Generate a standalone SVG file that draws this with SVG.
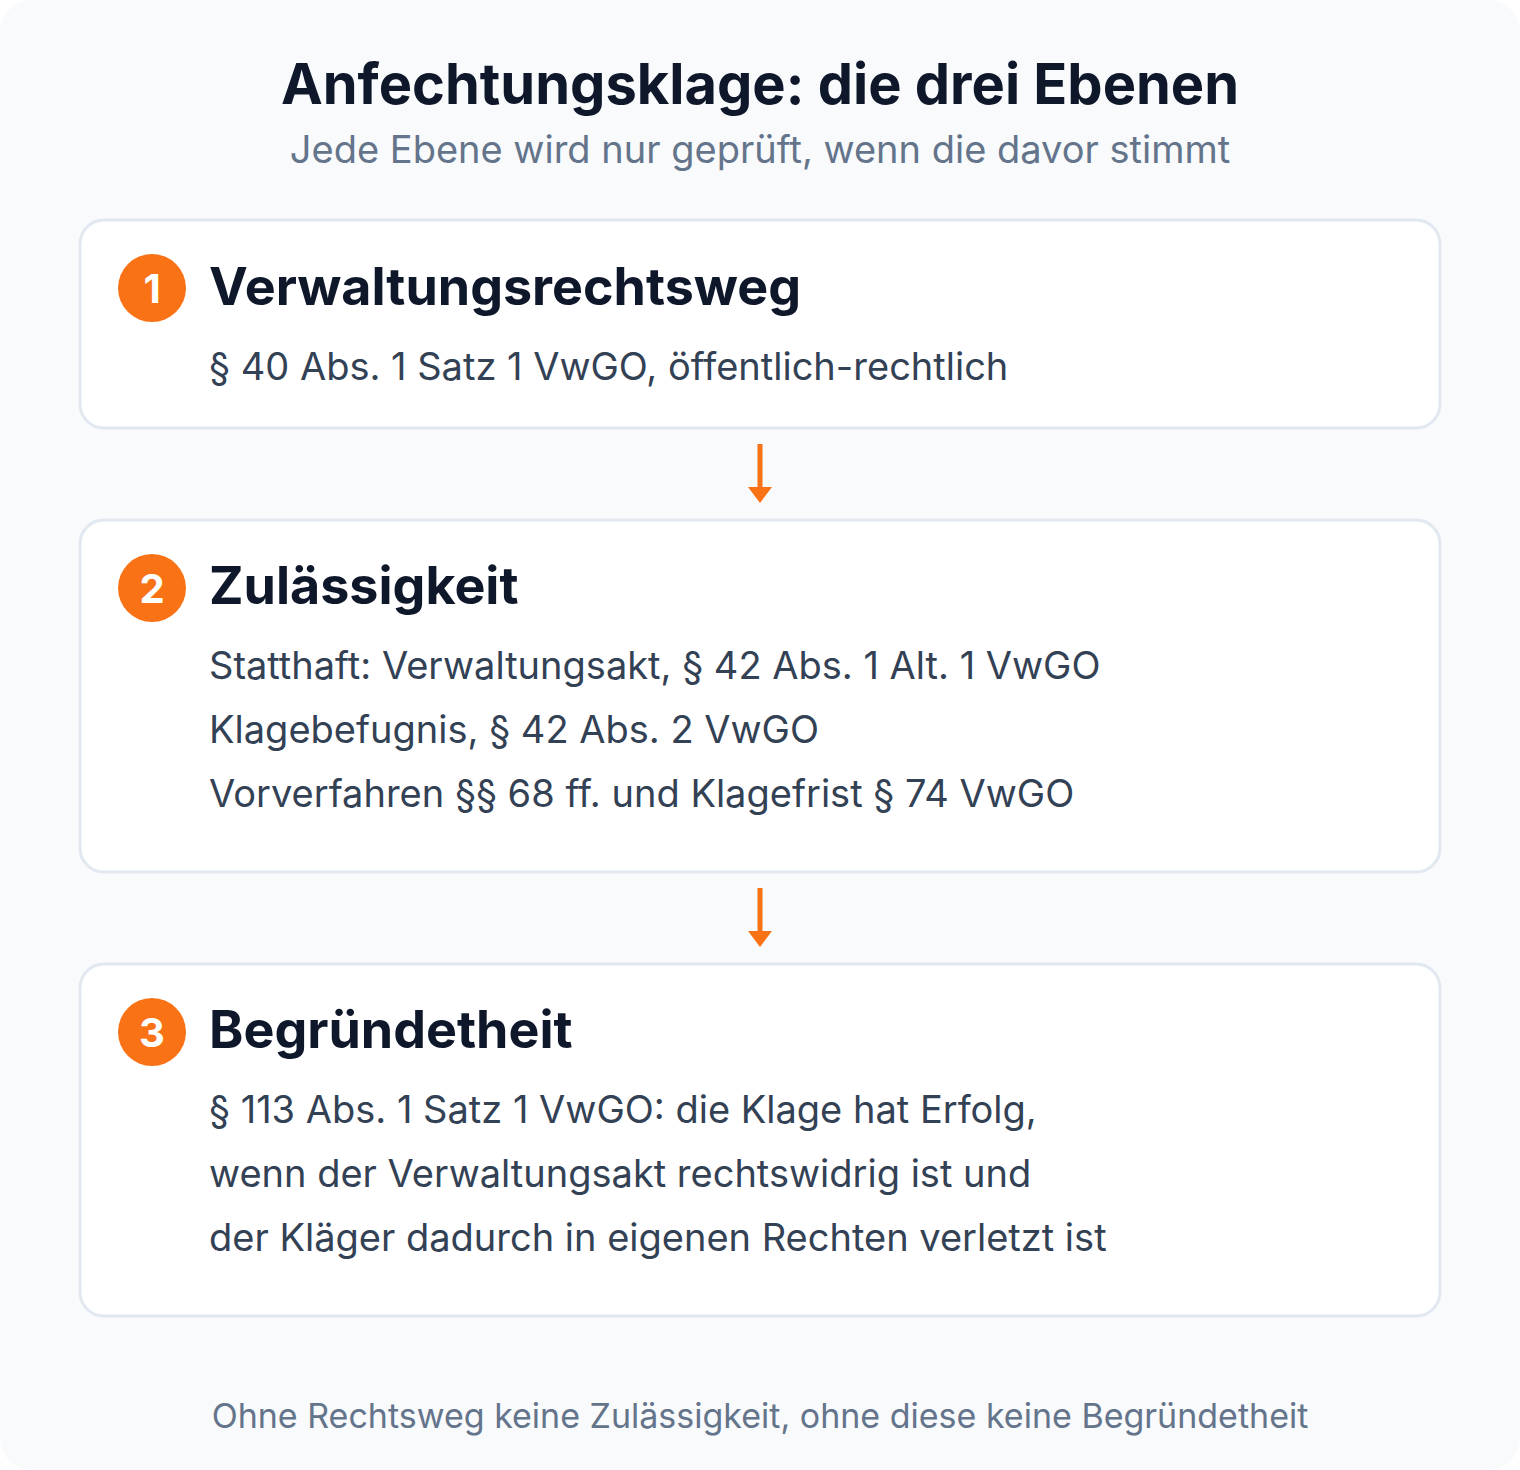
<svg xmlns="http://www.w3.org/2000/svg" width="1520" height="1470" viewBox="0 0 1520 1470">
<defs>
<style>
.t{font-family:Inter,"Noto Sans","DejaVu Sans",sans-serif}
.title{font-size:56px;font-weight:700;fill:#0f172a}
.sub{font-size:38px;fill:#64748b}
.box{fill:#ffffff;stroke:#e2e8f0;stroke-width:3}
.badge{fill:#f97316}
.num{font-size:40px;font-weight:700;fill:#ffffff}
.h{font-size:52px;font-weight:700;fill:#0f172a}
.b{font-size:38px;fill:#334155}
.foot{font-size:34px;fill:#64748b}
.arr{stroke:#f97316;stroke-width:5;fill:none}
</style>
<marker id="ah" viewBox="0 0 16 24" refX="1" refY="12" markerWidth="16" markerHeight="24" markerUnits="userSpaceOnUse" orient="auto">
<path d="M0,0 L16,12 L0,24 Z" fill="#f97316"/>
</marker>
</defs>
<rect x="0" y="0" width="1520" height="1470" rx="32" fill="#f8fafc"/>
<text class="t title" x="760" y="104" text-anchor="middle">Anfechtungsklage: die drei Ebenen</text>
<text class="t sub" x="760" y="163" text-anchor="middle">Jede Ebene wird nur geprüft, wenn die davor stimmt</text>
<g id="connectors">
<line class="arr" x1="760" y1="444" x2="760" y2="488" marker-end="url(#ah)"/>
<line class="arr" x1="760" y1="888" x2="760" y2="932" marker-end="url(#ah)"/>
</g>
<g id="node1">
<rect class="box" x="80" y="220" width="1360" height="208" rx="24"/>
<circle class="badge" cx="152" cy="288" r="34"/>
<text class="t num" x="152" y="303" text-anchor="middle">1</text>
<text class="t h" x="209" y="305">Verwaltungsrechtsweg</text>
<text class="t b" x="209" y="380">§ 40 Abs. 1 Satz 1 VwGO, öffentlich-rechtlich</text>
</g>
<g id="node2">
<rect class="box" x="80" y="520" width="1360" height="352" rx="24"/>
<circle class="badge" cx="152" cy="588" r="34"/>
<text class="t num" x="152" y="603" text-anchor="middle">2</text>
<text class="t h" x="209" y="604">Zulässigkeit</text>
<text class="t b" x="209" y="679">Statthaft: Verwaltungsakt, § 42 Abs. 1 Alt. 1 VwGO</text>
<text class="t b" x="209" y="743">Klagebefugnis, § 42 Abs. 2 VwGO</text>
<text class="t b" x="209" y="807">Vorverfahren §§ 68 ff. und Klagefrist § 74 VwGO</text>
</g>
<g id="node3">
<rect class="box" x="80" y="964" width="1360" height="352" rx="24"/>
<circle class="badge" cx="152" cy="1032" r="34"/>
<text class="t num" x="152" y="1047" text-anchor="middle">3</text>
<text class="t h" x="209" y="1048">Begründetheit</text>
<text class="t b" x="209" y="1123">§ 113 Abs. 1 Satz 1 VwGO: die Klage hat Erfolg,</text>
<text class="t b" x="209" y="1187">wenn der Verwaltungsakt rechtswidrig ist und</text>
<text class="t b" x="209" y="1251">der Kläger dadurch in eigenen Rechten verletzt ist</text>
</g>
<text class="t foot" x="760" y="1428" text-anchor="middle">Ohne Rechtsweg keine Zulässigkeit, ohne diese keine Begründetheit</text>
</svg>
